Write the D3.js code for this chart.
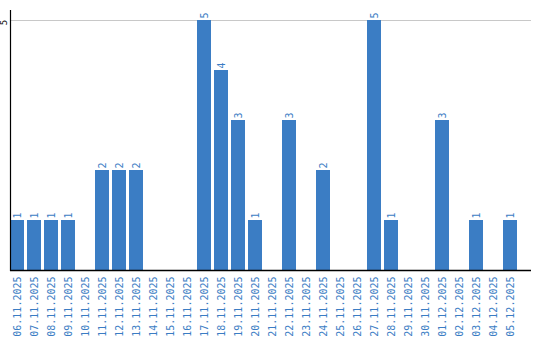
<!DOCTYPE html>
<html>
<head>
<meta charset="utf-8">
<script src="https://cdn.jsdelivr.net/npm/d3@7/dist/d3.min.js"></script>
<style>
  html, body { margin: 0; padding: 0; background: #fff; }
  svg { display: block; }
  text { font-family: "DejaVu Sans Mono", monospace; }
</style>
</head>
<body>
<svg id="chart" width="540" height="340"></svg>
<script>
const categories = ["06.11.2025","07.11.2025","08.11.2025","09.11.2025","10.11.2025","11.11.2025","12.11.2025","13.11.2025","14.11.2025","15.11.2025","16.11.2025","17.11.2025","18.11.2025","19.11.2025","20.11.2025","21.11.2025","22.11.2025","23.11.2025","24.11.2025","25.11.2025","26.11.2025","27.11.2025","28.11.2025","29.11.2025","30.11.2025","01.12.2025","02.12.2025","03.12.2025","04.12.2025","05.12.2025"];
const values = [1,1,1,1,0,2,2,2,0,0,0,5,4,3,1,0,3,0,2,0,0,5,1,0,0,3,0,1,0,1];
const yTicks = [5];

const color = "#3b7dc4";
const svg = d3.select("#chart");

const x = d3.scaleBand().domain(categories).range([10, 517]).paddingInner(3/17).paddingOuter(0);
const y = d3.scaleLinear().domain([0, 5.2]).range([270, 10]);

// gridlines
svg.append("g").selectAll("line").data(yTicks).join("line")
  .attr("x1", 10).attr("x2", 531)
  .attr("y1", d => Math.round(y(d)) + 0.5).attr("y2", d => Math.round(y(d)) + 0.5)
  .attr("stroke", "#c8c8c8").attr("stroke-width", 1);

// bars
const data = categories.map((c, i) => ({c, v: values[i]}));
svg.append("g").selectAll("rect").data(data).join("rect")
  .attr("x", d => x(d.c))
  .attr("width", x.bandwidth())
  .attr("y", d => y(d.v))
  .attr("height", d => y(0) - y(d.v))
  .attr("fill", color);

// value labels
svg.append("g").selectAll("text").data(data.filter(d => d.v > 0)).join("text")
  .attr("transform", d => `translate(${x(d.c) + x.bandwidth()/2},${y(d.v) - 1.5}) rotate(-90)`)
  .attr("text-anchor", "start")
  .attr("dy", "0.35em")
  .attr("font-size", 10)
  .attr("fill", color)
  .text(d => d.v);

// x axis labels
svg.append("g").selectAll("text").data(categories).join("text")
  .attr("transform", d => `translate(${x(d) + x.bandwidth()/2},276.5) rotate(-90)`)
  .attr("text-anchor", "end")
  .attr("dy", "0.35em")
  .attr("font-size", 10)
  .attr("fill", color)
  .text(d => d);

// y tick labels
svg.append("g").selectAll("text").data(yTicks).join("text")
  .attr("transform", d => `translate(3.5,${y(d) + 2.5}) rotate(-90)`)
  .attr("text-anchor", "middle")
  .attr("dy", "0.35em")
  .attr("font-size", 9)
  .attr("fill", "#000")
  .text(d => d);

// axes lines
svg.append("line").attr("x1", 10.5).attr("x2", 10.5).attr("y1", 10).attr("y2", 271)
  .attr("stroke", "#000").attr("stroke-width", 1.2);
svg.append("line").attr("x1", 10).attr("x2", 531).attr("y1", 270.5).attr("y2", 270.5)
  .attr("stroke", "#000").attr("stroke-width", 1.5);
</script>
</body>
</html>
